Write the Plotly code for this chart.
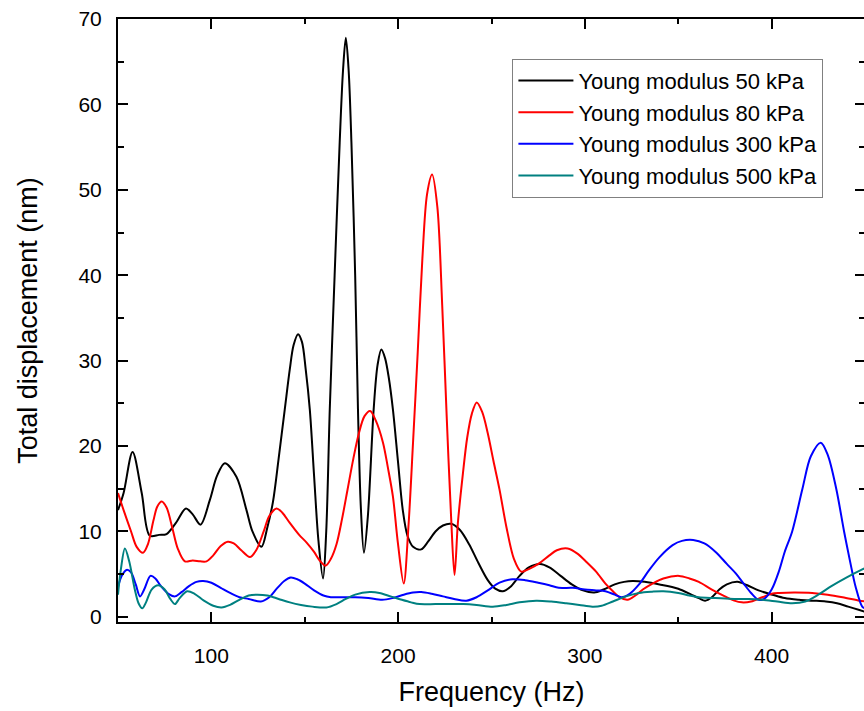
import plotly.graph_objects as go

# ---- data ----
freq_50 = [50, 53, 57.8, 62.7, 67, 72, 76, 81, 86.4, 90, 94.2, 99.2, 103, 107.2, 113.4, 118.8, 122, 126.8,
           130, 133, 136, 139.3, 142, 144, 146.4, 148.5, 150.5, 152.7, 155, 157.3, 159.8,
           161.5, 163.4, 166, 168.7, 170.5, 172, 173.5, 175, 177, 178.5, 180, 181.7,
           183.8, 186.9, 189, 191, 193, 195, 197.2, 200, 202.5, 205, 208, 212.3, 216, 220, 224, 228.4,
           233, 238, 243, 248, 252, 256, 260, 265, 270, 276, 281, 287, 293, 299, 305, 310, 316, 321,
           325.6, 332, 340, 350, 357, 361, 364.4, 368, 372, 376, 381.7, 387, 393, 400.4, 407, 414.7,
           422, 429, 435, 441, 447, 450]
disp_50 = [12.5, 14.5, 19.3, 14.5, 9.5, 9.6, 9.7, 11.0, 12.7, 12.0, 10.8, 13.7, 16.5, 18.0, 16.4, 12.5, 10.0, 8.2,
           10.5, 13.5, 18.5, 24.3, 29.0, 31.8, 33.1, 32.2, 29.0, 24.3, 16.5, 9.0, 4.5,
           10.0, 24.3, 40.0, 55.5, 64.0, 67.8, 64.0, 55.5, 40.0, 24.3, 13.0, 7.5,
           11.8, 24.3, 29.5, 31.3, 30.3, 28.0, 24.3, 18.0, 12.5, 9.5, 8.2, 7.9, 8.8, 10.0, 10.7, 10.9,
           10.2, 8.5, 6.3, 4.3, 3.3, 3.0, 3.5, 4.8, 5.8, 6.2, 5.8, 4.8, 3.8, 3.1, 2.85, 3.2, 3.8, 4.1,
           4.2, 4.1, 3.8, 3.3, 2.6, 2.2, 1.9, 2.3, 3.2, 3.8, 4.1, 3.7, 3.1, 2.6, 2.2, 2.0,
           1.9, 1.8, 1.6, 1.2, 0.8, 0.6]

freq_80 = [50, 53, 57, 60, 63.4, 66, 69, 71, 73.4, 76, 79, 82, 85.8, 90, 94, 97.4, 101, 105, 108.8, 112, 116,
           120.6, 124, 128, 131, 134.9, 138, 142, 147, 151, 155, 158, 161.2, 164, 167, 170, 173, 176, 179,
           182, 185, 188, 191.9, 194.5, 197.2, 199.9, 203, 205.5, 208, 210.5, 213, 215.5, 218.2, 221, 223.6,
           226, 228.3, 230.2, 232, 234.7, 237, 239.5, 242.1, 245, 248, 251, 254.3, 258, 262, 265.9, 270,
           275.7, 281, 285, 290.8, 296, 301, 306, 311, 315, 318.5, 322.9, 327, 331, 336.2, 342, 350.5,
           356, 361, 368, 375, 380, 384, 389, 395, 400, 404, 412, 421.7, 430, 438, 447, 450]
disp_80 = [14.5, 12.5, 10.0, 8.2, 7.5, 8.5, 11.3, 12.9, 13.5, 12.8, 10.5, 8.0, 6.5, 6.6, 6.5, 6.5, 7.2, 8.3, 8.8, 8.6, 7.8,
           7.0, 7.8, 10.0, 11.8, 12.7, 12.2, 11.0, 9.6, 8.7, 7.6, 6.6, 6.0, 6.8, 8.5, 11.5, 15.0, 18.5, 21.5,
           23.5, 24.1, 23.0, 20.4, 17.5, 14.1, 8.6, 3.9, 10.5, 20.5, 31.0, 42.0, 49.5, 51.8, 48.0, 36.5,
           23.5, 12.0, 4.9, 11.0, 16.8, 21.0, 23.8, 25.1, 24.0, 21.5, 18.3, 14.9, 10.5, 6.8, 5.3, 5.6,
           6.3, 7.2, 7.8, 8.0, 7.4, 6.4, 5.3, 3.9, 3.0, 2.3, 2.0, 2.5, 3.2, 3.9, 4.5, 4.8,
           4.5, 4.1, 3.2, 2.4, 1.9, 1.7, 1.8, 2.3, 2.7, 2.8, 2.85, 2.8, 2.6, 2.3, 1.9, 1.8]

freq_300 = [50, 52, 54.6, 57, 59.5, 61.8, 64, 67.4, 70, 73, 77, 80.5, 84, 88, 92, 95.6, 100, 105, 110, 115, 120,
            126.5, 131, 135, 139, 142.5, 146, 150, 155, 160, 164, 170, 177, 184, 191.5, 197, 203, 208, 212.4,
            218, 224, 230, 236.5, 242, 248, 254.3, 261.2, 268, 275, 281, 286, 293.5, 300, 306, 311, 316,
            319.5, 324, 329, 334.5, 340, 347, 352, 358, 364, 370, 376, 380.8, 385, 389, 393, 396, 400,
            404, 407, 411, 416.5, 421, 426.3, 430, 434.6, 438.8, 442, 445, 448.5, 450]
disp_300 = [3.5, 4.8, 5.5, 5.2, 3.8, 2.4, 3.2, 4.8, 4.5, 3.6, 2.7, 2.4, 2.9, 3.6, 4.1, 4.2, 4.0, 3.4, 2.8, 2.3, 2.1,
            1.8, 2.3, 3.3, 4.2, 4.6, 4.4, 3.9, 3.1, 2.5, 2.3, 2.3, 2.3, 2.2, 2.0, 2.2, 2.6, 2.85, 2.9,
            2.7, 2.4, 2.1, 1.9, 2.3, 3.1, 4.0, 4.4, 4.3, 4.0, 3.7, 3.4, 3.4, 3.2, 3.1, 3.0, 2.6,
            2.3, 2.7, 3.8, 5.5, 7.0, 8.4, 8.9, 9.0, 8.6, 7.6, 6.2, 5.1, 3.9, 2.8, 2.0, 2.1, 3.2,
            5.4, 7.6, 10.0, 15.0, 18.8, 20.4, 19.0, 15.0, 10.0, 6.5, 3.5, 1.2, 1.0]

freq_500 = [50, 51.5, 53.7, 56, 59, 61, 63, 65, 68, 71.5, 75, 78, 80.5, 83, 87, 91, 96, 101, 105.4, 110, 115, 120,
            124.2, 130, 136, 142, 148, 154, 161.6, 167, 172, 177, 184.8, 190, 196, 202, 207, 211.5, 220, 228,
            235, 242, 250.7, 258, 265, 273.9, 282, 290, 297, 304, 309, 315, 322, 329, 336, 342, 350, 356,
            361, 370, 380, 388, 395, 403, 411, 418, 425, 432, 440, 448, 450]
disp_500 = [2.6, 5.5, 8.0, 6.5, 3.2, 1.6, 1.0, 1.7, 3.2, 3.7, 3.2, 2.1, 1.5, 2.2, 3.0, 2.7, 1.9, 1.3, 1.1, 1.4, 2.0, 2.5,
            2.6, 2.5, 2.1, 1.7, 1.4, 1.2, 1.1, 1.5, 2.1, 2.6, 2.9, 2.8, 2.4, 2.0, 1.7, 1.5, 1.5, 1.5,
            1.5, 1.4, 1.2, 1.4, 1.7, 1.9, 1.8, 1.6, 1.4, 1.2, 1.3, 1.8, 2.4, 2.8, 2.95, 3.0, 2.8, 2.5,
            2.3, 2.2, 2.1, 2.1, 2.0, 1.8, 1.6, 1.8, 2.6, 3.6, 4.6, 5.5, 5.7]

series_names = ["Young modulus 50 kPa", "Young modulus 80 kPa",
                "Young modulus 300 kPa", "Young modulus 500 kPa"]
series_colors = ["#000000", "#FF0000", "#0000FF", "#008080"]

x_ticks = [100, 200, 300, 400]
y_ticks = [0, 10, 20, 30, 40, 50, 60, 70]

FONT = "Liberation Sans, Arial, sans-serif"

fig = go.Figure()
for fx, fy, name, col in zip([freq_50, freq_80, freq_300, freq_500],
                             [disp_50, disp_80, disp_300, disp_500],
                             series_names, series_colors):
    fig.add_trace(go.Scatter(x=fx, y=fy, mode="lines", name=name,
                             line=dict(color=col, width=2, shape="spline", smoothing=0.9)))

axis_common = dict(showline=True, linecolor="black", linewidth=2, mirror="ticks",
                   ticks="inside", tickcolor="black", tickwidth=2, ticklen=10,
                   showgrid=False, zeroline=False,
                   tickfont=dict(family=FONT, size=21, color="black"))

fig.update_xaxes(range=[50, 450], tickvals=x_ticks,
                 minor=dict(dtick=50, tick0=0, ticks="inside", ticklen=5, tickwidth=2, tickcolor="black"),
                 title=dict(text="Frequency (Hz)", font=dict(family=FONT, size=27, color="black"), standoff=16),
                 ticklabelstandoff=14,
                 **axis_common)
fig.update_yaxes(range=[-0.6, 70], tickvals=y_ticks,
                 minor=dict(dtick=5, tick0=0, ticks="inside", ticklen=6, tickwidth=2, tickcolor="black"),
                 title=dict(text="Total displacement (nm)", font=dict(family=FONT, size=27, color="black"), standoff=33),
                 ticklabelstandoff=10,
                 **axis_common)

fig.update_layout(
    width=867, height=711,
    margin=dict(l=118, r=0, t=19, b=89),
    paper_bgcolor="white", plot_bgcolor="white",
    showlegend=True,
    legend=dict(x=0.528, y=0.934, xanchor="left", yanchor="top",
                bgcolor="white", bordercolor="#808080", borderwidth=1,
                font=dict(family=FONT, size=22, color="black"),
                tracegroupgap=0, itemwidth=55),
)

fig.write_html("out.html", config={"displayModeBar": False},
               post_script="document.body.style.margin='0';document.body.style.overflow='hidden';")
